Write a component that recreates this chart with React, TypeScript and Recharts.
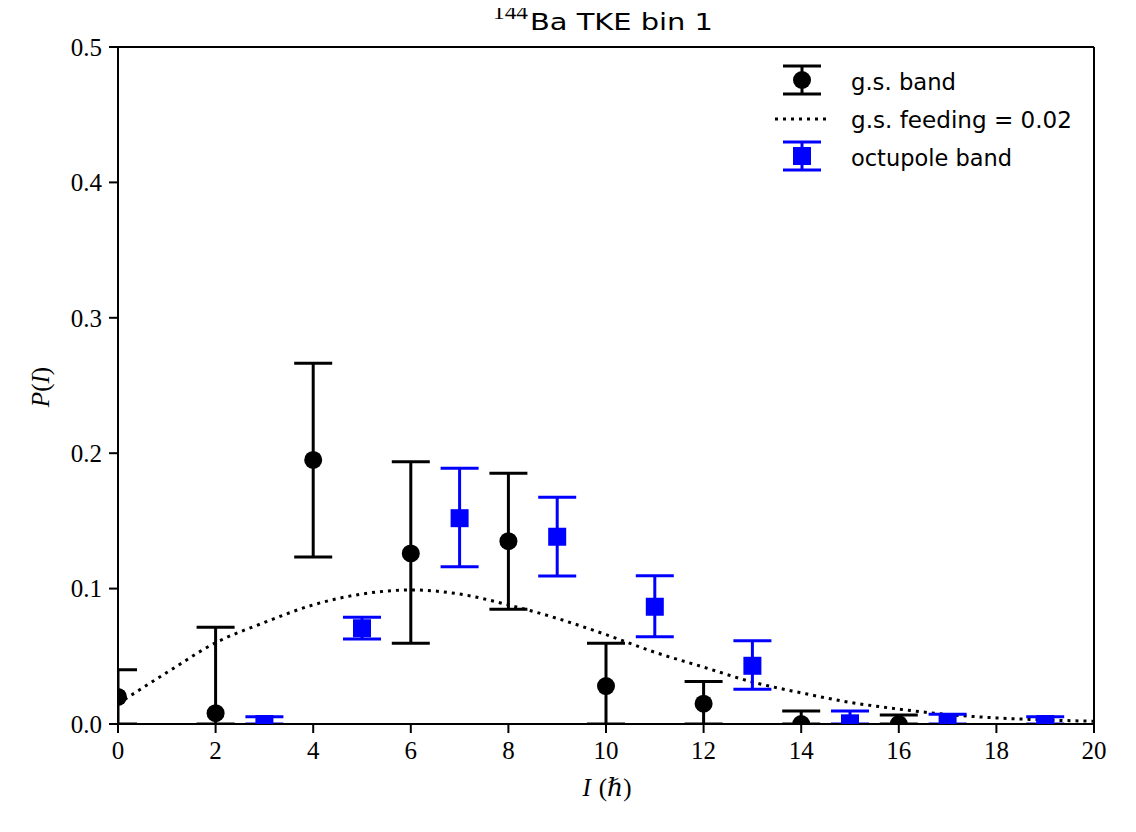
import React from 'react';
import { ComposedChart, Scatter, Line, XAxis, YAxis, ErrorBar, ReferenceLine } from 'recharts';

// g.s. band (black circles)
const gsSpin = [0, 2, 4, 6, 8, 10, 12, 14, 16];
const gsProb = [0.02, 0.008, 0.195, 0.126, 0.135, 0.028, 0.015, 0.0, 0.0];
const gsTop = [0.04, 0.0715, 0.2665, 0.1937, 0.1852, 0.0596, 0.0313, 0.0096, 0.0066];
const gsBottom = [0, 0, 0.1233, 0.0596, 0.0847, 0, 0, 0, 0];

// octupole band (blue squares)
const octSpin = [3, 5, 7, 9, 11, 13, 15, 17, 19];
const octProb = [0.0, 0.0707, 0.152, 0.1383, 0.0866, 0.043, 0.0005, 0.001, 0.0];
const octTop = [0.0053, 0.0788, 0.1888, 0.1674, 0.1095, 0.0615, 0.0096, 0.0072, 0.0054];
const octBottom = [0, 0.0628, 0.1162, 0.1093, 0.0645, 0.0256, 0, 0, 0];

// g.s. feeding curve (dotted)
const feedSpin = [0, 1, 2, 3, 4, 5, 6, 7, 8, 9, 10, 11, 12, 13, 14, 15, 16, 17, 18, 19, 20];
const feedProb = [0.015, 0.038, 0.06, 0.075, 0.088, 0.096, 0.099, 0.096, 0.088, 0.078, 0.066, 0.053,
  0.042, 0.031, 0.023, 0.016, 0.011, 0.007, 0.0045, 0.003, 0.002];

const xTicks = [0, 2, 4, 6, 8, 10, 12, 14, 16, 18, 20];
const yTicks = [0, 0.1, 0.2, 0.3, 0.4, 0.5];

const gsData = gsSpin.map((I, i) => ({ I, P: gsProb[i], err: [gsProb[i] - gsBottom[i], gsTop[i] - gsProb[i]] }));
const octData = octSpin.map((I, i) => ({ I, P: octProb[i], err: [octProb[i] - octBottom[i], octTop[i] - octProb[i]] }));
const feedData = feedSpin.map((I, i) => ({ I, P: feedProb[i] }));

const BLUE = '#0000ff';
const SERIF = '"Liberation Serif", "DejaVu Serif", serif';
const SANS = '"DejaVu Sans", "Open Sans", sans-serif';
const CLIP = 'url(#plotAreaClip)';

const CircleShape = (p: any) => <circle cx={p.cx} cy={p.cy} r={9} fill="#000" clipPath={CLIP} />;
const SquareShape = (p: any) => (
  <rect x={p.cx - 9} y={p.cy - 9} width={18} height={18} fill={BLUE} clipPath={CLIP} />
);

const XTick = (p: any) => (
  <text x={p.x} y={p.y} dy="0.71em" textAnchor="middle" fontFamily={SERIF} fontSize={25} fill="#000">
    {p.payload.value}
  </text>
);

const YTick = (p: any) => (
  <text x={p.x} y={p.y} dy="0.355em" textAnchor="end" fontFamily={SERIF} fontSize={25} fill="#000">
    {Number(p.payload.value).toFixed(1)}
  </text>
);

const XLabel = (p: any) => {
  const vb = p.viewBox;
  return (
    <text x={vb.x + vb.width / 2 + 1} y={vb.y + 72} textAnchor="middle" fontFamily={SERIF} fontSize={25} fill="#000">
      <tspan fontStyle="italic">I</tspan>
      <tspan dx={8}>(</tspan>
      <tspan fontStyle="italic">ℏ</tspan>
      <tspan>)</tspan>
    </text>
  );
};

const YLabel = () => {
  const cx = 32;
  const cy = 379;
  return (
    <text x={cx} y={cy} transform={`rotate(-90 ${cx} ${cy})`} textAnchor="middle" dominantBaseline="central"
      fontFamily={SERIF} fontSize={25} fill="#000">
      <tspan fontStyle="italic">P</tspan>
      <tspan>(</tspan>
      <tspan fontStyle="italic">I</tspan>
      <tspan>)</tspan>
    </text>
  );
};

export default function App() {
  return (
    <div style={{ position: 'relative', width: 1120, height: 816 }}>
      <svg width={0} height={0} style={{ position: 'absolute' }}>
        <defs>
          <clipPath id="plotAreaClip">
            <rect x={110} y={39} width={976} height={677} />
          </clipPath>
        </defs>
      </svg>
      <ComposedChart width={1120} height={816} margin={{ top: 39, right: 34, left: 0, bottom: 0 }}>
        <XAxis
          type="number"
          dataKey="I"
          domain={[0, 20]}
          ticks={xTicks}
          allowDataOverflow
          height={100}
          stroke="#000"
          strokeWidth={2}
          tickSize={9}
          tickMargin={8}
          tick={<XTick />}
          tickLine={{ stroke: '#000', strokeWidth: 2 }}
          label={<XLabel />}
        />
        <YAxis
          type="number"
          dataKey="P"
          domain={[0, 0.5]}
          ticks={yTicks}
          allowDataOverflow
          width={110}
          stroke="#000"
          strokeWidth={2}
          tickSize={9}
          tickMargin={7}
          tick={<YTick />}
          tickLine={{ stroke: '#000', strokeWidth: 2 }}
          label={<YLabel />}
        />
        <ReferenceLine y={0.5} stroke="#000" strokeWidth={2} />
        <ReferenceLine x={20} stroke="#000" strokeWidth={2} />
        <Scatter data={gsData} dataKey="P" shape={CircleShape} isAnimationActive={false}>
          <ErrorBar dataKey="err" direction="y" width={19} stroke="#000" strokeWidth={3} clipPath={CLIP} isAnimationActive={false} />
        </Scatter>
        <Line
          data={feedData}
          dataKey="P"
          type="monotone"
          stroke="#000"
          strokeWidth={3}
          strokeDasharray="3 5"
          dot={false}
          activeDot={false}
          isAnimationActive={false}
        />
        <Scatter data={octData} dataKey="P" shape={SquareShape} isAnimationActive={false}>
          <ErrorBar dataKey="err" direction="y" width={19} stroke={BLUE} strokeWidth={3} clipPath={CLIP} isAnimationActive={false} />
        </Scatter>
      </ComposedChart>
      <svg width={1120} height={816} style={{ position: 'absolute', left: 0, top: 0, pointerEvents: 'none', overflow: 'visible' }}>
        <text x={485} y={10.5} fontFamily={SERIF} fontSize={20} fill="#000" textLength={35} lengthAdjust="spacingAndGlyphs">144</text>
        <text x={522} y={21.5} fontFamily={SANS} fontSize={23} fill="#000" textLength={183} lengthAdjust="spacingAndGlyphs">Ba TKE bin 1</text>
        {/* legend */}
        <g>
          <line x1={794} y1={58} x2={794} y2={86} stroke="#000" strokeWidth={3} />
          <line x1={775} y1={58} x2={813} y2={58} stroke="#000" strokeWidth={3} />
          <line x1={775} y1={86} x2={813} y2={86} stroke="#000" strokeWidth={3} />
          <circle cx={794} cy={72} r={9} fill="#000" />
          <text x={843} y={82} fontFamily={SANS} fontSize={23} fill="#000" textLength={105} lengthAdjust="spacingAndGlyphs">g.s. band</text>

          <line x1={767} y1={111} x2={820} y2={111} stroke="#000" strokeWidth={3} strokeDasharray="3 5" />
          <text x={843} y={120} fontFamily={SANS} fontSize={23} fill="#000" textLength={221} lengthAdjust="spacingAndGlyphs">g.s. feeding = 0.02</text>

          <line x1={794} y1={134} x2={794} y2={162} stroke={BLUE} strokeWidth={3} />
          <line x1={775} y1={134} x2={813} y2={134} stroke={BLUE} strokeWidth={3} />
          <line x1={775} y1={162} x2={813} y2={162} stroke={BLUE} strokeWidth={3} />
          <rect x={785} y={139} width={18} height={18} fill={BLUE} />
          <text x={843} y={158} fontFamily={SANS} fontSize={23} fill="#000" textLength={161} lengthAdjust="spacingAndGlyphs">octupole band</text>
        </g>
      </svg>
    </div>
  );
}
